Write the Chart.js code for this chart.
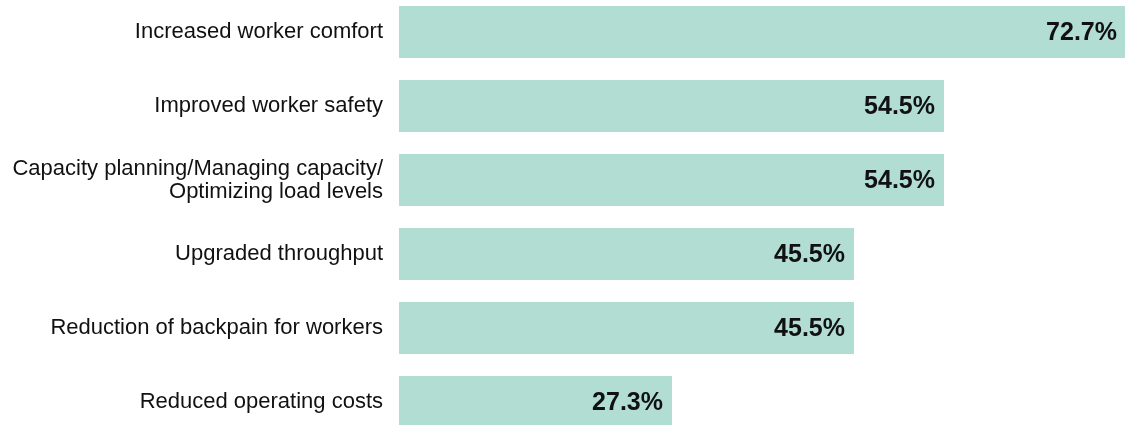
<!DOCTYPE html>
<html>
<head>
<meta charset="utf-8">
<script src="https://cdn.jsdelivr.net/npm/chart.js@4"></script>
<style>
  html, body { margin: 0; padding: 0; background: #fff; overflow: hidden; }
  #wrap { position: absolute; left: 0; top: -5px; width: 1125px; height: 444px; }
</style>
</head>
<body>
<div id="wrap"><canvas id="myChart"></canvas></div>
<script>
const categories = [
  "Increased worker comfort",
  "Improved worker safety",
  ["Capacity planning/Managing capacity/", "Optimizing load levels"],
  "Upgraded throughput",
  "Reduction of backpain for workers",
  "Reduced operating costs",
];
const shares = [72.7, 54.5, 54.5, 45.5, 45.5, 27.3];

// draws the bold value at the end of each bar
const valueLabels = {
  id: "valueLabels",
  afterDatasetsDraw(chart) {
    const ctx = chart.ctx;
    const meta = chart.getDatasetMeta(0);
    ctx.save();
    ctx.font = "bold 25px 'Liberation Sans', Arial, sans-serif";
    ctx.fillStyle = "#111";
    ctx.textAlign = "right";
    ctx.textBaseline = "middle";
    meta.data.forEach((bar, i) => {
      ctx.fillText(shares[i].toFixed(1) + "%", bar.x - 9, bar.y + 1);
    });
    ctx.restore();
  },
};

document.addEventListener("DOMContentLoaded", (event) => {
  let chart = new Chart("myChart", {
    type: "bar",
    data: {
      labels: categories,
      datasets: [
        {
          data: shares,
          backgroundColor: "#b1ddd3",
          barPercentage: 0.703,
          categoryPercentage: 1,
        },
      ],
    },
    options: {
      indexAxis: "y",
      animation: false,
      responsive: true,
      maintainAspectRatio: false,
      layout: { padding: 0 },
      plugins: {
        legend: { display: false },
        tooltip: { enabled: false },
      },
      scales: {
        x: {
          display: false,
          min: 0,
          max: 72.6,
        },
        y: {
          grid: { display: false, drawTicks: false },
          border: { display: false },
          afterFit: (scale) => {
            scale.width = 399;
            // no extra room above/below for the tick labels
            scale.paddingTop = 0;
            scale.paddingBottom = 0;
          },
          ticks: {
            padding: 16,
            color: "#111",
            font: {
              family: "'Liberation Sans', Arial, sans-serif",
              size: 22,
              lineHeight: 1.05,
            },
          },
        },
      },
    },
    plugins: [valueLabels],
  });
});
</script>
</body>
</html>
